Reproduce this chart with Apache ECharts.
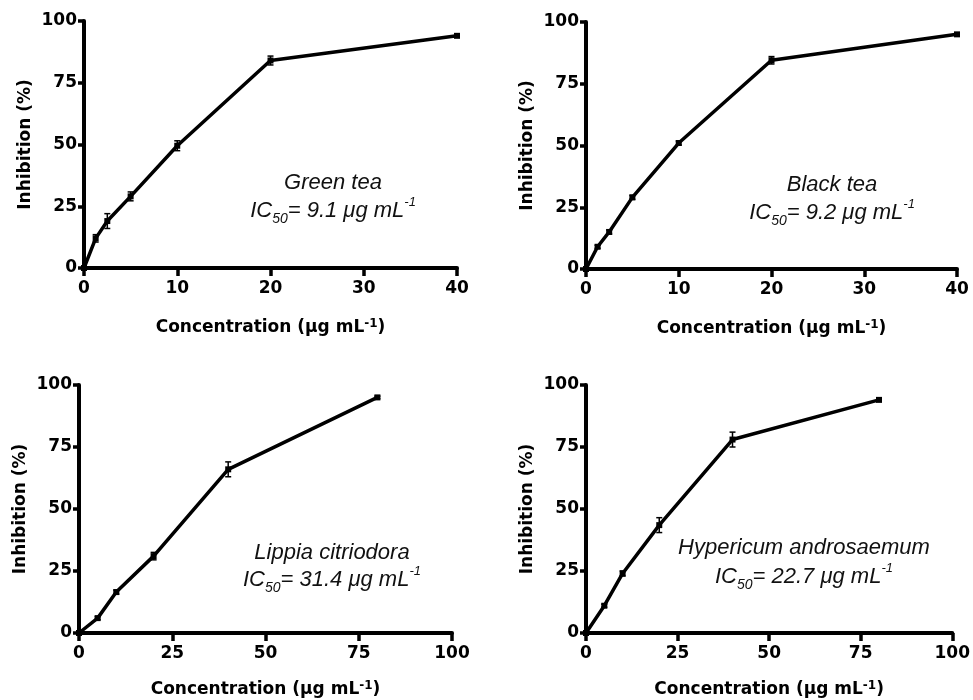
<!DOCTYPE html>
<html>
<head>
<meta charset="utf-8">
<script src="https://cdn.jsdelivr.net/npm/echarts@6/dist/echarts.min.js"></script>
<style>html,body{margin:0;padding:0;background:#fff}#c{width:973px;height:700px}</style>
</head>
<body>
<div id="c"></div>
<script>
// ---- data ----
const greenX = [0, 1.25, 2.5, 5, 10, 20, 40];
const greenY = [0, 12, 19, 29, 49.5, 84, 94];
const greenErr = [0, 1.5, 3, 1.8, 2, 1.8, 0.5];

const blackX = [0, 1.25, 2.5, 5, 10, 20, 40];
const blackY = [0, 9, 15, 29, 51, 84.5, 95];
const blackErr = [0, 0.6, 0.8, 0.8, 0.8, 1.5, 0.5];

const lippiaX = [0, 5, 10, 20, 40, 80];
const lippiaY = [0, 6, 16.5, 31, 66, 95];
const lippiaErr = [0, 0.6, 0.8, 1.5, 3, 0.5];

const hyperX = [0, 5, 10, 20, 40, 80];
const hyperY = [0, 11, 24, 43.5, 78, 94];
const hyperErr = [0, 0.6, 1, 3, 3, 0.5];

const xTicksTop = [0, 10, 20, 30, 40];
const xTicksBottom = [0, 25, 50, 75, 100];
const yTicks = [0, 25, 50, 75, 100];

const panelNames = ['Green tea', 'Black tea', 'Lippia citriodora', 'Hypericum androsaemum'];
const panelIC50 = ['9.1', '9.2', '31.4', '22.7'];

// ---- chart ----
const panels = [
  {xs: greenX, ys: greenY, es: greenErr, xt: xTicksTop},
  {xs: blackX, ys: blackY, es: blackErr, xt: xTicksTop},
  {xs: lippiaX, ys: lippiaY, es: lippiaErr, xt: xTicksBottom},
  {xs: hyperX, ys: hyperY, es: hyperErr, xt: xTicksBottom}
];
const grids = [
  {left: 84, top: 21, width: 373, height: 247},
  {left: 586, top: 22, width: 371, height: 247},
  {left: 79, top: 385, width: 373, height: 248},
  {left: 586, top: 385, width: 372, height: 248}
];
const xNameGaps = [50, 50, 47, 47];
const labelFont = {fontFamily: 'DejaVu Sans', fontWeight: 'bold', fontSize: 17, color: '#000'};
const axisLine = {show: true, onZero: false, lineStyle: {color: '#000', width: 4}};

const xAxes = [], yAxes = [], series = [];
panels.forEach((p, i) => {
  const xt = p.xt;
  xAxes.push({
    type: 'value', gridIndex: i,
    min: xt[0], max: xt[xt.length - 1], interval: xt[1] - xt[0],
    axisLine: axisLine,
    axisTick: {show: true, length: 8, lineStyle: {color: '#000', width: 3.5}},
    axisLabel: Object.assign({margin: 12}, labelFont),
    splitLine: {show: false},
    name: 'Concentration (μg mL{sup|-1})',
    nameLocation: 'middle', nameGap: xNameGaps[i],
    nameTextStyle: Object.assign({}, labelFont, {
      rich: {sup: {fontFamily: 'DejaVu Sans', fontWeight: 'bold', fontSize: 12, verticalAlign: 'top', lineHeight: 20, color: '#000'}}
    })
  });
  yAxes.push({
    type: 'value', gridIndex: i,
    min: yTicks[0], max: yTicks[yTicks.length - 1], interval: yTicks[1] - yTicks[0],
    axisLine: axisLine,
    axisTick: {show: true, length: 6, lineStyle: {color: '#000', width: 3.5}},
    axisLabel: Object.assign({margin: 7}, labelFont),
    splitLine: {show: false},
    name: 'Inhibition (%)',
    nameLocation: 'middle', nameGap: 50,
    nameTextStyle: labelFont
  });
  const pts = p.xs.map((x, k) => [x, p.ys[k]]);
  series.push({
    type: 'line', xAxisIndex: i, yAxisIndex: i,
    data: pts, symbol: 'rect', symbolSize: 6, showSymbol: true,
    itemStyle: {color: '#000'},
    lineStyle: {color: '#000', width: 3.5},
    silent: true, animation: false, z: 3
  });
  series.push({
    type: 'custom', xAxisIndex: i, yAxisIndex: i,
    data: p.xs.map((x, k) => [x, p.ys[k], p.es[k]]),
    renderItem: function (params, api) {
      const x = api.value(0), y = api.value(1), e = api.value(2);
      if (!e) return null;
      const top = api.coord([x, y + e]);
      const bot = api.coord([x, y - e]);
      const w = 3;
      const st = {stroke: '#000', lineWidth: 1.5};
      return {type: 'group', children: [
        {type: 'line', shape: {x1: top[0], y1: top[1], x2: bot[0], y2: bot[1]}, style: st},
        {type: 'line', shape: {x1: top[0] - w, y1: top[1], x2: top[0] + w, y2: top[1]}, style: st},
        {type: 'line', shape: {x1: bot[0] - w, y1: bot[1], x2: bot[0] + w, y2: bot[1]}, style: st}
      ]};
    },
    silent: true, animation: false, z: 4
  });
});

const annPos = [
  {x: 333, y1: 183, y2: 211},
  {x: 832, y1: 185, y2: 213},
  {x: 332, y1: 553, y2: 580},
  {x: 804, y1: 548, y2: 577}
];
const graphic = [];
annPos.forEach((a, i) => {
  graphic.push({
    type: 'text', x: a.x, y: a.y1,
    style: {text: panelNames[i], align: 'center', verticalAlign: 'middle',
      fill: '#111', font: 'italic 22px "Liberation Sans"'}
  });
  graphic.push({
    type: 'text', x: a.x, y: a.y2,
    style: {
      text: '{m|IC}{sub|50}{m|= ' + panelIC50[i] + ' μg mL}{sup|-1}',
      align: 'center', verticalAlign: 'middle', fill: '#111',
      font: 'italic 22px "Liberation Sans"',
      rich: {
        m: {fontFamily: 'Liberation Sans', fontStyle: 'italic', fontSize: 22, lineHeight: 30, verticalAlign: 'middle', fill: '#111'},
        sub: {fontFamily: 'Liberation Sans', fontStyle: 'italic', fontSize: 14, lineHeight: 14, verticalAlign: 'bottom', fill: '#111'},
        sup: {fontFamily: 'Liberation Sans', fontStyle: 'italic', fontSize: 13, lineHeight: 13, verticalAlign: 'top', fill: '#111'}
      }
    }
  });
});

const chart = echarts.init(document.getElementById('c'), null, {renderer: 'canvas'});
chart.setOption({
  backgroundColor: '#fff',
  animation: false,
  grid: grids,
  xAxis: xAxes,
  yAxis: yAxes,
  series: series,
  graphic: graphic
});
</script>
</body>
</html>
